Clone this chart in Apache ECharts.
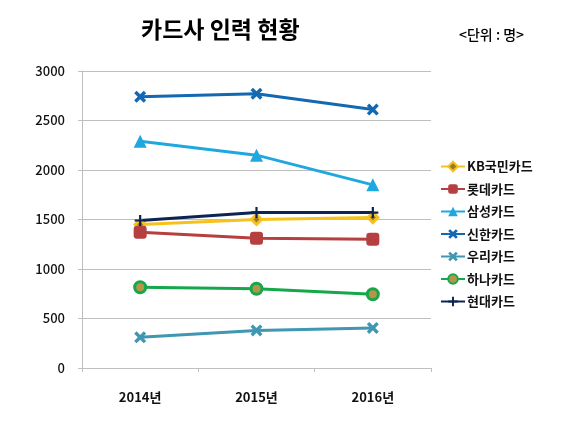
<!DOCTYPE html>
<html lang="ko">
<head>
<meta charset="UTF-8">
<title>카드사 인력 현황</title>
<style>
    body { margin: 0; padding: 0; background: #fff; }
    #chart { width: 580px; height: 435px; }
</style>
</head>
<body>
<script src="https://cdn.jsdelivr.net/npm/echarts/dist/echarts.min.js"></script>
<div id="chart"></div>
<script>
// 데이터
var years = ['2014년', '2015년', '2016년'];
var kb = [1450, 1500, 1520];
var lotte = [1370, 1310, 1300];
var samsung = [2290, 2150, 1850];
var shinhan = [2740, 2770, 2610];
var woori = [310, 380, 405];
var hana = [815, 800, 745];
var hyundai = [1490, 1570, 1570];
var yTicks = [0, 500, 1000, 1500, 2000, 2500, 3000];

var font = '"Noto Sans CJK KR", sans-serif';
var xMark = 'path://M0,2 L2,0 L5,3 L8,0 L10,2 L7,5 L10,8 L8,10 L5,7 L2,10 L0,8 L3,5 Z';
var plusMark = 'path://M4,0 L6,0 L6,4 L10,4 L10,6 L6,6 L6,10 L4,10 L4,6 L0,6 L0,4 L4,4 Z';

function line(name, data, color, symbol, size, extra) {
    var s = {
        name: name,
        type: 'line',
        data: data,
        symbol: symbol,
        symbolSize: size,
        showAllSymbol: true,
        lineStyle: { color: color, width: 3 },
        itemStyle: { color: color, borderColor: color, borderWidth: 0 }
    };
    if (extra) {
        s.itemStyle = extra;
    }
    return s;
}

var myChart = echarts.init(document.getElementById('chart'));

var option = {
    animation: false,
    textStyle: { fontFamily: font },
    title: [{
        text: '카드사 인력 현황',
        left: 136,
        top: 13,
        textStyle: { fontFamily: font, fontSize: 23, fontWeight: 'bold', color: '#000' }
    }, {
        text: '<단위 : 명>',
        left: 454,
        top: 23,
        textStyle: { fontFamily: font, fontSize: 14, fontWeight: 500, color: '#000' }
    }],
    legend: {
        orient: 'vertical',
        left: 435,
        top: 155,
        itemWidth: 24,
        itemHeight: 12,
        itemGap: 9.5,
        textStyle: { fontFamily: font, fontSize: 13, fontWeight: 'bold', color: '#111', padding: [0, 0, 0, -3] },
        data: ['KB국민카드', '롯데카드', '삼성카드', '신한카드', '우리카드', '하나카드', '현대카드']
    },
    grid: { left: 82, right: 149, top: 71, bottom: 67 },
    xAxis: {
        type: 'category',
        data: years,
        boundaryGap: true,
        axisLine: { lineStyle: { color: '#bfbfbf', width: 1 } },
        axisTick: { show: true, length: 4, lineStyle: { color: '#bfbfbf' } },
        axisLabel: { margin: 23, fontSize: 13, fontWeight: 'bold', color: '#111', fontFamily: font }
    },
    yAxis: {
        type: 'value',
        min: yTicks[0],
        max: yTicks[yTicks.length - 1],
        interval: 500,
        axisLine: { show: true, lineStyle: { color: '#bfbfbf', width: 1 } },
        axisTick: { show: true, length: 4, lineStyle: { color: '#bfbfbf' } },
        splitLine: { lineStyle: { color: '#bfbfbf', width: 1 } },
        axisLabel: {
            margin: 17, fontSize: 13, fontWeight: 500, color: '#111', fontFamily: font,
            formatter: function (v) { return String(v); }
        }
    },
    series: [
        line('KB국민카드', kb, '#f7c11c', 'diamond', 10,
            { color: '#9a7a2a', borderColor: '#f7c11c', borderWidth: 3 }),
        line('롯데카드', lotte, '#b5403f', 'roundRect', 13),
        line('삼성카드', samsung, '#1fa8e0', 'triangle', 13),
        line('신한카드', shinhan, '#1268b3', xMark, 12),
        line('우리카드', woori, '#3f97b1', xMark, 12),
        line('하나카드', hana, '#14a84a', 'circle', 11,
            { color: '#b8944a', borderColor: '#14a84a', borderWidth: 3 }),
        line('현대카드', hyundai, '#0d2452', plusMark, 11)
    ]
};

myChart.setOption(option);
</script>
</body>
</html>
